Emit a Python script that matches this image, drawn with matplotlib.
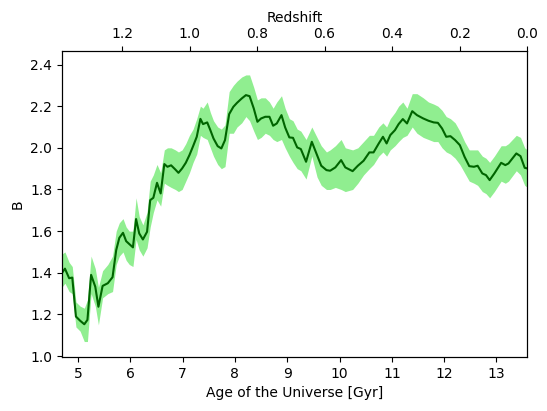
import matplotlib
matplotlib.use('Agg')
import matplotlib.pyplot as plt

# age of the universe [Gyr] and B with its band
age = [4.69, 4.75, 4.83, 4.89, 4.96, 5.04, 5.12, 5.18, 5.25, 5.33, 5.39, 5.47, 5.57, 5.66,
       5.73, 5.79, 5.86, 5.92, 5.98, 6.05, 6.11, 6.17, 6.24, 6.32, 6.38, 6.44, 6.51, 6.58,
       6.65, 6.71, 6.78, 6.86, 6.92, 6.99, 7.06, 7.13, 7.20, 7.27, 7.34, 7.39, 7.47, 7.53,
       7.59, 7.67, 7.74, 7.81, 7.89, 7.97, 8.04, 8.13, 8.21, 8.28, 8.36, 8.43, 8.50, 8.58,
       8.66, 8.73, 8.80, 8.89, 8.96, 9.04, 9.11, 9.19, 9.26, 9.36, 9.47, 9.57, 9.65, 9.75,
       9.82, 9.92, 10.03, 10.11, 10.25, 10.35, 10.46, 10.57, 10.65, 10.75, 10.83, 10.90,
       10.97, 11.06, 11.13, 11.21, 11.29, 11.39, 11.48, 11.60, 11.70, 11.80, 11.88, 11.96,
       12.04, 12.12, 12.21, 12.30, 12.39, 12.48, 12.57, 12.64, 12.73, 12.80, 12.87, 12.96,
       13.09, 13.17, 13.23, 13.38, 13.46, 13.54, 13.59]
B = [1.398, 1.420, 1.374, 1.377, 1.190, 1.170, 1.153, 1.174, 1.390, 1.333, 1.237, 1.337,
     1.350, 1.379, 1.509, 1.568, 1.592, 1.552, 1.538, 1.522, 1.658, 1.589, 1.560, 1.597,
     1.749, 1.760, 1.832, 1.781, 1.922, 1.909, 1.916, 1.896, 1.880, 1.901, 1.928, 1.965,
     2.008, 2.053, 2.139, 2.114, 2.122, 2.085, 2.045, 2.008, 1.997, 2.037, 2.162, 2.197,
     2.216, 2.237, 2.253, 2.248, 2.189, 2.125, 2.141, 2.149, 2.149, 2.106, 2.117, 2.157,
     2.098, 2.050, 2.048, 2.002, 1.994, 1.933, 2.029, 1.965, 1.914, 1.893, 1.890, 1.906,
     1.941, 1.906, 1.888, 1.914, 1.938, 1.978, 1.978, 2.021, 2.053, 2.021, 2.061, 2.085,
     2.114, 2.138, 2.117, 2.176, 2.157, 2.141, 2.130, 2.122, 2.120, 2.093, 2.053, 2.056,
     2.037, 2.013, 1.957, 1.912, 1.909, 1.914, 1.877, 1.869, 1.845, 1.877, 1.928, 1.917,
     1.925, 1.973, 1.960, 1.904, 1.901]
B_hi = [1.49, 1.50, 1.45, 1.43, 1.26, 1.24, 1.23, 1.27, 1.48, 1.42, 1.33, 1.41, 1.44, 1.48,
        1.60, 1.64, 1.66, 1.62, 1.60, 1.60, 1.76, 1.67, 1.63, 1.69, 1.84, 1.87, 1.92, 1.88,
        1.99, 2.00, 2.00, 1.99, 1.98, 1.99, 2.02, 2.06, 2.09, 2.14, 2.20, 2.19, 2.22, 2.17,
        2.13, 2.10, 2.09, 2.11, 2.27, 2.30, 2.32, 2.34, 2.35, 2.35, 2.29, 2.23, 2.24, 2.24,
        2.22, 2.19, 2.22, 2.25, 2.19, 2.14, 2.13, 2.09, 2.08, 2.04, 2.10, 2.05, 2.01, 1.98,
        1.99, 2.01, 2.04, 2.00, 1.99, 2.00, 2.03, 2.06, 2.06, 2.10, 2.12, 2.10, 2.14, 2.17,
        2.20, 2.22, 2.19, 2.26, 2.26, 2.24, 2.22, 2.21, 2.20, 2.18, 2.15, 2.14, 2.12, 2.08,
        2.03, 1.99, 1.99, 1.99, 1.96, 1.95, 1.93, 1.96, 2.01, 2.01, 2.02, 2.06, 2.05, 2.00,
        1.99]
B_lo = [1.33, 1.35, 1.31, 1.30, 1.14, 1.12, 1.07, 1.07, 1.30, 1.24, 1.15, 1.28, 1.30, 1.31,
        1.44, 1.48, 1.50, 1.46, 1.44, 1.43, 1.56, 1.51, 1.48, 1.52, 1.62, 1.69, 1.75, 1.72,
        1.83, 1.82, 1.81, 1.80, 1.79, 1.80, 1.84, 1.88, 1.93, 1.97, 2.06, 2.05, 2.04, 2.00,
        1.96, 1.92, 1.90, 1.91, 2.07, 2.07, 2.10, 2.12, 2.15, 2.13, 2.08, 2.04, 2.05, 2.07,
        2.06, 2.04, 2.03, 2.04, 2.00, 1.96, 1.93, 1.90, 1.89, 1.85, 1.96, 1.86, 1.82, 1.80,
        1.80, 1.81, 1.80, 1.79, 1.80, 1.83, 1.87, 1.90, 1.92, 1.96, 1.98, 1.96, 1.99, 2.01,
        2.03, 2.05, 2.06, 2.10, 2.07, 2.05, 2.04, 2.03, 2.03, 2.00, 1.98, 1.97, 1.95, 1.92,
        1.88, 1.84, 1.83, 1.82, 1.79, 1.78, 1.76, 1.79, 1.84, 1.83, 1.84, 1.89, 1.87, 1.82,
        1.81]

z_ticks = [1.2, 1.0, 0.8, 0.6, 0.4, 0.2, 0.0]

fig = plt.figure(figsize=(5.47, 4.11), dpi=100)
ax = fig.add_axes([0.113, 0.131, 0.851, 0.745])

ax.fill_between(age, B_lo, B_hi, color='lightgreen', linewidth=0)
ax.plot(age, B, color='darkgreen', linewidth=1.5)

ax.set_xlim(4.69, 13.59)
ax.set_ylim(0.995, 2.465)
ax.set_xlabel('Age of the Universe [Gyr]')
ax.set_ylabel('B')

# redshift on top
ax2 = ax.twiny()
ax2.set_xlim(1.378, 0.0)
ax2.set_xticks(z_ticks)
ax2.set_xticklabels(['%.1f' % z for z in z_ticks])
ax2.set_xlabel('Redshift')

fig.savefig('out.png', dpi=100)
